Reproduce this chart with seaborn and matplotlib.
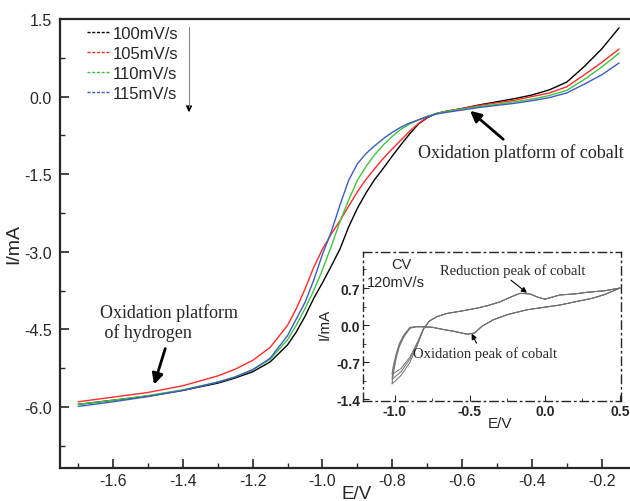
#!/usr/bin/env python3
import numpy as np
import pandas as pd
import matplotlib as mpl
mpl.use('Agg')
import matplotlib.pyplot as plt
from matplotlib.lines import Line2D
from matplotlib.ticker import MultipleLocator, FormatStrFormatter
import seaborn as sns

# ---- data ----
E = [-1.70, -1.60, -1.50, -1.40, -1.30, -1.25, -1.20, -1.15, -1.10, -1.075,
     -1.05, -1.025, -1.00, -0.975, -0.95, -0.925, -0.90, -0.875, -0.85, -0.825,
     -0.80, -0.775, -0.75, -0.725, -0.70, -0.675, -0.65, -0.60, -0.55, -0.50,
     -0.45, -0.40, -0.35, -0.30, -0.25, -0.20, -0.15]

i_100 = [-5.95, -5.87, -5.79, -5.68, -5.54, -5.44, -5.32, -5.13, -4.80, -4.55,
         -4.25, -3.90, -3.60, -3.28, -2.95, -2.52, -2.16, -1.86, -1.60, -1.38,
         -1.15, -0.93, -0.72, -0.53, -0.41, -0.33, -0.29, -0.23, -0.16, -0.10,
         -0.04, 0.03, 0.13, 0.28, 0.58, 0.92, 1.33]
i_105 = [-5.90, -5.81, -5.72, -5.59, -5.40, -5.27, -5.10, -4.85, -4.42, -4.10,
         -3.72, -3.30, -2.95, -2.66, -2.40, -2.12, -1.84, -1.60, -1.39, -1.19,
         -1.01, -0.84, -0.67, -0.52, -0.40, -0.33, -0.29, -0.23, -0.17, -0.12,
         -0.07, 0.00, 0.07, 0.19, 0.42, 0.66, 0.92]
i_110 = [-5.95, -5.87, -5.78, -5.67, -5.52, -5.42, -5.28, -5.08, -4.70, -4.42,
         -4.10, -3.75, -3.35, -2.90, -2.42, -2.00, -1.62, -1.35, -1.12, -0.93,
         -0.77, -0.63, -0.53, -0.45, -0.38, -0.33, -0.29, -0.24, -0.19, -0.15,
         -0.10, -0.05, 0.02, 0.12, 0.33, 0.57, 0.84]
i_115 = [-5.99, -5.90, -5.80, -5.68, -5.52, -5.42, -5.28, -5.06, -4.62, -4.30,
         -3.98, -3.55, -3.05, -2.62, -2.10, -1.62, -1.30, -1.10, -0.95, -0.81,
         -0.69, -0.59, -0.51, -0.45, -0.39, -0.34, -0.31, -0.26, -0.21, -0.17,
         -0.13, -0.08, -0.02, 0.07, 0.24, 0.42, 0.65]

rates = ['100mV/s', '105mV/s', '110mV/s', '115mV/s']
colors = ['#000000', '#ff2a2a', '#3fc43f', '#3d5cc2']

# inset CV at 120 mV/s: cathodic sweep (0.5 -> -1.02), then anodic sweep back
cv_e = [0.50, 0.40, 0.32, 0.20, 0.10, 0.00, -0.12, -0.25, -0.345, -0.42,
        -0.47, -0.52, -0.60, -0.68, -0.75, -0.81, -0.86, -0.90, -0.94, -0.97,
        -0.99, -1.01, -1.02,
        -0.96, -0.90, -0.85, -0.81, -0.77, -0.72, -0.655, -0.55, -0.455, -0.38,
        -0.30, -0.22, -0.167, -0.10, -0.05, 0.00, 0.05, 0.10, 0.20, 0.28,
        0.40, 0.50]
cv_cycle1 = [0.70, 0.58, 0.51, 0.44, 0.38, 0.34, 0.29, 0.20, 0.10, -0.02,
             -0.15, -0.17, -0.12, -0.08, -0.04, -0.03, -0.03, -0.06, -0.22, -0.40,
             -0.60, -0.90, -1.11,
             -0.95, -0.70, -0.38, -0.08, 0.08, 0.16, 0.22, 0.27, 0.32, 0.37,
             0.44, 0.54, 0.60, 0.59, 0.53, 0.49, 0.53, 0.57, 0.59, 0.62,
             0.65, 0.70]
cv_cycle2 = [0.70, 0.58, 0.51, 0.44, 0.38, 0.34, 0.29, 0.20, 0.10, -0.02,
             -0.15, -0.17, -0.12, -0.08, -0.04, -0.03, -0.03, -0.05, -0.20, -0.37,
             -0.56, -0.82, -1.02,
             -0.88, -0.64, -0.35, -0.07, 0.08, 0.16, 0.22, 0.27, 0.32, 0.37,
             0.44, 0.54, 0.60, 0.59, 0.53, 0.49, 0.53, 0.57, 0.59, 0.62,
             0.65, 0.70]
cv_cycle3 = [0.70, 0.58, 0.51, 0.44, 0.38, 0.34, 0.29, 0.20, 0.10, -0.02,
             -0.15, -0.17, -0.12, -0.08, -0.04, -0.03, -0.03, -0.04, -0.18, -0.34,
             -0.52, -0.75, -0.93,
             -0.82, -0.60, -0.32, -0.06, 0.08, 0.16, 0.22, 0.27, 0.32, 0.37,
             0.44, 0.54, 0.60, 0.59, 0.53, 0.49, 0.53, 0.57, 0.59, 0.62,
             0.65, 0.70]

sns.set_style('ticks')
plt.rcParams['font.family'] = ['Liberation Sans', 'DejaVu Sans']
serif = ['Liberation Serif', 'DejaVu Serif']

fig = plt.figure(figsize=(6.3, 5.02), dpi=100)
ax = fig.add_axes([60/630, 1 - 469/502, 594/630, 449/502])

d = pd.DataFrame({'E': E * 4,
                  'I': i_100 + i_105 + i_110 + i_115,
                  'rate': [r for r in rates for _ in E]})
sns.lineplot(data=d, x='E', y='I', hue='rate', palette=colors, ax=ax,
             linewidth=1.0, legend=False)

ax.set_xlim(-1.752, -0.05)
ax.set_ylim(-7.18, 1.5)
ax.xaxis.set_major_locator(MultipleLocator(0.2))
ax.xaxis.set_minor_locator(MultipleLocator(0.1))
ax.yaxis.set_major_locator(MultipleLocator(1.5))
ax.yaxis.set_minor_locator(MultipleLocator(0.75))
ax.xaxis.set_major_formatter(FormatStrFormatter('%.1f'))
ax.yaxis.set_major_formatter(FormatStrFormatter('%.1f'))
ax.tick_params(which='major', direction='in', length=6.5, width=1.2, labelsize=11.5)
ax.tick_params(which='minor', direction='in', length=3.5, width=1.0)
ax.tick_params(axis='y', which='major', pad=6)
for s in ax.spines.values():
    s.set_linewidth(1.6)
ax.set_xlabel('E/V', fontsize=13.5, labelpad=-2)
ax.set_ylabel('I/mA', fontsize=14, labelpad=1)

# legend
handles = [Line2D([], [], color=c, lw=1.0, ls=(0, (2.2, 1.2))) for c in colors]
fig.legend(handles, rates, loc='upper left', bbox_to_anchor=(87/630, 1 - 27/502),
           bbox_transform=fig.transFigure, frameon=False, fontsize=12,
           handlelength=1.4, handletextpad=0.15, labelspacing=0.3,
           borderpad=0, borderaxespad=0)
fig.add_artist(plt.Line2D([189/630, 189/630], [1 - 28/502, 1 - 108/502],
                          color='#888888', lw=0.8))
ax.annotate('', xy=(189/630, 1 - 116/502), xytext=(189/630, 1 - 104/502),
            xycoords='figure fraction', textcoords='figure fraction',
            arrowprops=dict(arrowstyle='-|>', color='black', lw=0.8,
                            mutation_scale=9))

# annotations on the main plot
ax.annotate('', xy=(-0.583, -0.24), xytext=(-0.476, -0.86),
            arrowprops=dict(arrowstyle='-|>', color='black', lw=2.0,
                            mutation_scale=16))
ax.text(-0.726, -1.07, 'Oxidation platform of cobalt', family=serif,
        fontsize=13, ha='left', va='center')
ax.annotate('', xy=(-1.485, -5.62), xytext=(-1.448, -4.82),
            arrowprops=dict(arrowstyle='-|>', color='black', lw=2.0,
                            mutation_scale=16))
ax.text(-1.637, -4.36, 'Oxidation platform\n of hydrogen', family=serif,
        fontsize=13, ha='left', va='center', linespacing=1.15)

# inset
ax_in = fig.add_axes([363/630, 1 - 402/502, 258/630, 149/502])
ax_in.set_facecolor('white')
for cyc in (cv_cycle1, cv_cycle2, cv_cycle3):
    sns.lineplot(x=cv_e, y=cyc, sort=False, estimator=None, ax=ax_in,
                 color='#707070', linewidth=0.7)
ax_in.set_xlim(-1.213, 0.507)
ax_in.set_ylim(-1.43, 1.38)
ax_in.xaxis.set_major_locator(MultipleLocator(0.5))
ax_in.xaxis.set_minor_locator(MultipleLocator(0.25))
ax_in.yaxis.set_major_locator(MultipleLocator(0.7))
ax_in.yaxis.set_minor_locator(MultipleLocator(0.35))
ax_in.xaxis.set_major_formatter(FormatStrFormatter('%.1f'))
ax_in.yaxis.set_major_formatter(FormatStrFormatter('%.1f'))
ax_in.tick_params(which='both', direction='in', labelsize=10, pad=2)
ax_in.tick_params(which='major', length=4)
ax_in.tick_params(which='minor', length=2)
for lab in ax_in.get_xticklabels() + ax_in.get_yticklabels():
    lab.set_fontweight('bold')
for s in ax_in.spines.values():
    s.set_linestyle((0, (6, 3, 1, 3)))
    s.set_linewidth(1.0)
ax_in.text(0.53, -0.15, 'E/V', transform=ax_in.transAxes, fontsize=11,
           ha='center', va='center')
ax_in.text(-0.15, 0.52, 'I/mA', transform=ax_in.transAxes, fontsize=11,
           ha='center', va='center', rotation=90)
ax_in.text(0.15, 0.92, 'CV', transform=ax_in.transAxes, fontsize=10.5,
           ha='center', va='center')
ax_in.text(0.128, 0.80, '120mV/s', transform=ax_in.transAxes, fontsize=10.5,
           ha='center', va='center')
ax_in.annotate('Reduction peak of cobalt', xy=(-0.12, 0.61), xytext=(-0.70, 1.04),
               family=serif, fontsize=10.5, ha='left', va='center',
               arrowprops=dict(arrowstyle='-|>', color='black', lw=0.8,
                               mutation_scale=8, shrinkA=0, shrinkB=0,
                               relpos=(0.46, 0.0)))
ax_in.annotate('Oxidation peak of cobalt', xy=(-0.489, -0.16), xytext=(-0.397, -0.53),
               family=serif, fontsize=10.5, ha='center', va='center',
               arrowprops=dict(arrowstyle='-|>', color='black', lw=0.8,
                               mutation_scale=8, shrinkA=0, shrinkB=0,
                               relpos=(0.45, 1.0)))

fig.savefig('out.png', dpi=100)
